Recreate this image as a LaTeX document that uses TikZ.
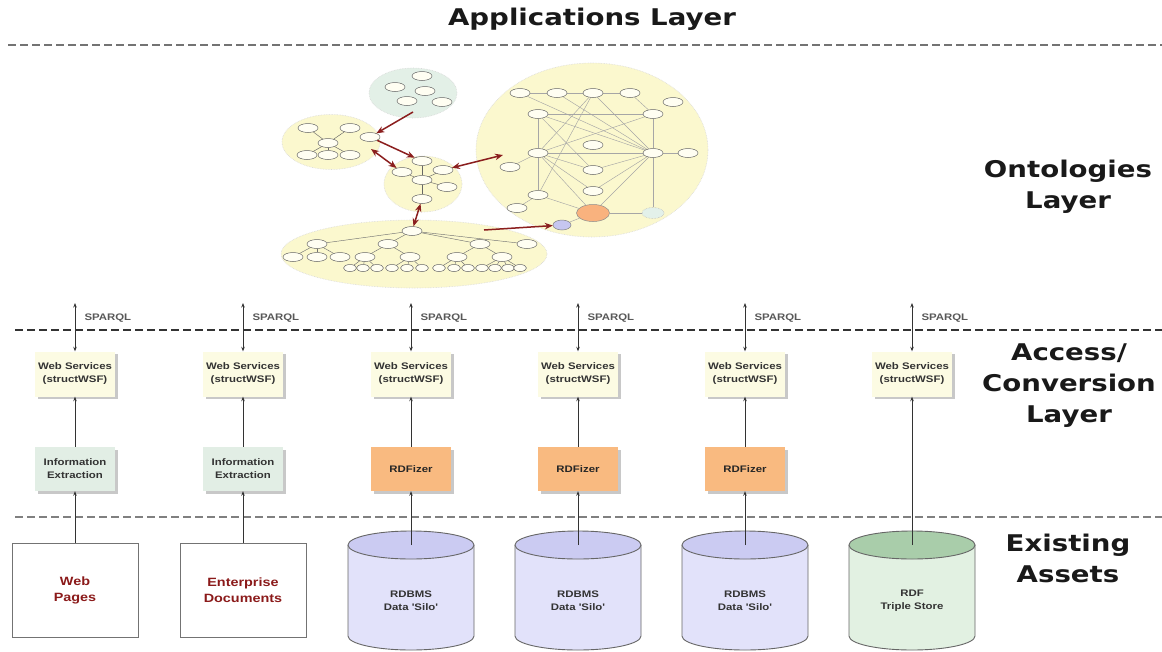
\documentclass[tikz,border=0pt]{standalone}
\usepackage{fontspec}
\usetikzlibrary{shapes.geometric,arrows.meta,shadows}
\newfontfamily\layerfont[FakeStretch=1.2]{DejaVu Sans}
\newfontfamily\boxfont[FakeStretch=1.2]{Liberation Sans}

\definecolor{blobfill}{HTML}{FBF8CE}
\definecolor{blobgreen}{HTML}{E3F0E7}
\definecolor{nodefill}{HTML}{FFFEF2}
\definecolor{wsfill}{HTML}{FCFBE3}
\definecolor{iefill}{HTML}{E2EEE5}
\definecolor{rdffill}{HTML}{F9BA80}
\definecolor{dbbody}{HTML}{E2E2FA}
\definecolor{dbtop}{HTML}{CBCBF2}
\definecolor{tsbody}{HTML}{E2F1E2}
\definecolor{tstop}{HTML}{A9CDAA}
\definecolor{linkred}{HTML}{8B1E1E}
\definecolor{assetred}{HTML}{8B1A1A}
\definecolor{hubfill}{HTML}{F9B27E}
\definecolor{pendfill}{HTML}{E3F1EA}
\definecolor{leaffill}{HTML}{C6C6F0}

\pgfdeclarelayer{paper}
\pgfdeclarelayer{blobs}
\pgfdeclarelayer{edges}
\pgfsetlayers{paper,blobs,edges,main}

\begin{document}
\begin{tikzpicture}[x=1pt,y=-1pt,
  layerlbl/.style={font=\layerfont\bfseries\fontsize{23}{31}\selectfont, align=center, text=black!90},
  sepline/.style={line width=2pt, dash pattern=on 7.5pt off 4.5pt},
  smalltxt/.style={font=\boxfont\bfseries\fontsize{9.5}{13}\selectfont, align=center},
  wsbox/.style={smalltxt, fill=wsfill, minimum width=80pt, minimum height=45pt, inner sep=0pt,
    text=black!80, drop shadow={shadow xshift=2.5pt, shadow yshift=-2.5pt, fill=black!30, opacity=0.7}},
  iebox/.style={smalltxt, fill=iefill, minimum width=80pt, minimum height=44pt, inner sep=0pt,
    text=black!80, drop shadow={shadow xshift=2.5pt, shadow yshift=-2.5pt, fill=black!30, opacity=0.7}},
  rdfbox/.style={iebox, fill=rdffill, text=black!85},
  sparql/.style={font=\boxfont\bfseries\fontsize{9.5}{11}\selectfont, text=black!65, anchor=west},
  docbox/.style={draw=black!55, line width=0.9pt, fill=white, minimum width=126pt, minimum height=94pt,
    font=\boxfont\bfseries\fontsize{12}{16}\selectfont, text=assetred, align=center},
  cyltxt/.style={font=\boxfont\bfseries\fontsize{9.5}{13}\selectfont, text=black!80, align=center},
  cylline/.style={draw=black!60, line width=0.9pt},
  flow/.style={draw=black!80, line width=0.8pt, -{Stealth[length=4.5pt,width=3.5pt]}},
  flow2/.style={flow, {Stealth[length=4.5pt,width=3.5pt]}-{Stealth[length=4.5pt,width=3.5pt]}},
  blob/.style={ellipse, fill=blobfill, draw=black!15, densely dotted, line width=0.6pt, inner sep=0pt},
  onode/.style={ellipse, draw=black!60, fill=nodefill, line width=0.5pt, minimum width=20pt,
    minimum height=9pt, inner sep=0pt},
  snode/.style={onode, minimum width=13pt, minimum height=7pt},
  oedge/.style={draw=black!35, line width=0.45pt},
  redarr/.style={draw=linkred, line width=1.5pt, -{Stealth[length=8pt,width=6.5pt]}},
  redarr2/.style={redarr, {Stealth[length=8pt,width=6.5pt]}-{Stealth[length=8pt,width=6.5pt]}}
]
\begin{pgfonlayer}{paper}
  \fill[white] (0,0) rectangle (1162,651);
\end{pgfonlayer}
\useasboundingbox (0,0) rectangle (1162,651);

% ---------- layer titles and separators ----------
\node[layerlbl] (tApp) at (592,19) {Applications Layer};
\node[layerlbl] (tOnt) at (1068,187) {Ontologies\\Layer};
\node[layerlbl] (tAcc) at (1069,386) {Access/\\Conversion\\Layer};
\node[layerlbl] (tExi) at (1068,558) {Existing\\Assets};

\draw[sepline, black!55] (8,45) -- (1162,45);
\draw[sepline, black!80] (15,330) -- (1162,330);
\draw[sepline, black!50] (15,517) -- (1162,517);

% ---------- ontology clusters ----------
\begin{pgfonlayer}{blobs}
  \node[blob, fill=blobgreen, minimum width=88pt, minimum height=50pt] (G) at (413,93) {};
  \node[blob, minimum width=98pt, minimum height=55pt] (L) at (331,142) {};
  \node[blob, minimum width=78pt, minimum height=56pt] (M) at (423,184) {};
  \node[blob, minimum width=266pt, minimum height=68pt] (B) at (414,254) {};
  \node[blob, minimum width=232pt, minimum height=174pt] (C) at (592,150) {};
\end{pgfonlayer}

% cluster G
\node[onode] (g1) at (422,76) {};
\node[onode] (g2) at (395,87) {};
\node[onode] (g3) at (425,91) {};
\node[onode] (g4) at (407,101) {};
\node[onode] (g5) at (442,102) {};

% cluster L
\node[onode] (l1) at (308,128) {};
\node[onode] (l2) at (350,128) {};
\node[onode] (lc) at (328,143) {};
\node[onode] (l3) at (307,155) {};
\node[onode] (l4) at (328,155) {};
\node[onode] (l5) at (350,155) {};
\node[onode] (lx) at (370,137) {};

% cluster M
\node[onode] (m1) at (422,161) {};
\node[onode] (m2) at (402,172) {};
\node[onode] (m3) at (443,170) {};
\node[onode] (m4) at (422,180) {};
\node[onode] (m5) at (447,187) {};
\node[onode] (m6) at (422,199) {};

% cluster B
\node[onode] (b0) at (412,231) {};
\node[onode] (b21) at (317,244) {};
\node[onode] (b22) at (388,244) {};
\node[onode] (b23) at (480,244) {};
\node[onode] (b24) at (527,244) {};
\node[onode] (b31) at (293,257) {};
\node[onode] (b32) at (317,257) {};
\node[onode] (b33) at (340,257) {};
\node[onode] (b34) at (365,257) {};
\node[onode] (b35) at (410,257) {};
\node[onode] (b36) at (457,257) {};
\node[onode] (b37) at (502,257) {};
\foreach \k/\x in {1/350,2/363,3/377,4/392,5/407,6/422,7/439,8/454,9/468,10/482,11/495,12/508,13/520}
  \node[snode] (b4\k) at (\x,268) {};

% cluster C
\node[onode] (c1) at (520,93) {};
\node[onode] (c2) at (557,93) {};
\node[onode] (c3) at (593,93) {};
\node[onode] (c4) at (630,93) {};
\node[onode] (c5) at (673,102) {};
\node[onode] (c6) at (538,114) {};
\node[onode] (c7) at (653,114) {};
\node[onode] (c8) at (538,153) {};
\node[onode] (c9) at (593,145) {};
\node[onode] (c10) at (653,153) {};
\node[onode] (c11) at (688,153) {};
\node[onode] (c12) at (510,167) {};
\node[onode] (c13) at (593,170) {};
\node[onode] (c14) at (538,195) {};
\node[onode] (c15) at (593,191) {};
\node[onode] (c16) at (517,208) {};
\node[onode, fill=hubfill, draw=black!45, minimum width=33pt, minimum height=17pt] (chub) at (593,213) {};
\node[onode, fill=pendfill, draw=black!30, densely dotted, minimum width=22pt, minimum height=11pt] (cpend) at (653,213) {};
\node[onode, fill=leaffill, draw=black!50, minimum width=18pt, minimum height=10pt] (cleaf) at (562,225) {};

\begin{pgfonlayer}{edges}
  % L
  \foreach \n in {l1,l2,l3,l4,l5} \draw[oedge, draw=black!60] (lc) -- (\n);
  % M
  \foreach \n in {m1,m2,m3,m5,m6} \draw[oedge, draw=black!60] (m4) -- (\n);
  % B
  \foreach \n in {b21,b22,b23,b24} \draw[oedge, draw=black!55] (b0) -- (\n);
  \foreach \a/\n in {b21/b31,b21/b32,b21/b33,b22/b34,b22/b35,b23/b36,b23/b37,
     b34/b41,b34/b42,b34/b43,b35/b44,b35/b45,b35/b46,b36/b47,b36/b48,b36/b49,
     b37/b410,b37/b411,b37/b412,b37/b413}
    \draw[oedge, draw=black!55] (\a) -- (\n);
  % C
  \foreach \a/\n in {c1/c2,c2/c3,c3/c4,c6/c7,c6/c8,c8/c14,c7/c10,c10/cpend,c10/c11,c8/c10,
     c1/c10,c2/c10,c6/c10,c7/c8,c3/c8,c3/c14,c8/c13,c10/c13,c8/chub,c10/chub,c10/c15,
     c14/chub,chub/cpend,c12/c8,c16/c14,cleaf/chub,c8/c15,c4/c7,c3/c10,c6/c13}
    \draw[oedge] (\a) -- (\n);
\end{pgfonlayer}

% links between clusters
\coordinate (r1s) at (413,112);
\coordinate (r3s) at (371,149);
\coordinate (r4e) at (503,155);
\coordinate (r6s) at (484,230);
\draw[redarr] (r1s) -- (lx);
\draw[redarr] (lx) -- (m1);
\draw[redarr2] (r3s) -- (m2);
\draw[redarr2] (m3) -- (r4e);
\draw[redarr2] (m6) -- (b0);
\draw[redarr] (r6s) -- (cleaf);

% ---------- access / conversion columns ----------
\foreach \i/\x in {1/75,2/243,3/411,4/578,5/745,6/912} {
  \node[wsbox] (ws\i) at (\x,374) {Web Services\\(structWSF)};
  \coordinate (sq\i) at (\x,303);
  \draw[flow2] (sq\i) -- (ws\i);
  \node[sparql] (sl\i) at (\x+6,318) {SPARQL};
}

\node[iebox] (cv1) at (75,469) {Information\\Extraction};
\node[iebox] (cv2) at (243,469) {Information\\Extraction};
\node[rdfbox] (cv3) at (411,469) {RDFizer};
\node[rdfbox] (cv4) at (578,469) {RDFizer};
\node[rdfbox] (cv5) at (745,469) {RDFizer};

% ---------- existing assets ----------
\node[docbox] (a1) at (75,590) {Web\\Pages};
\node[docbox] (a2) at (243,590) {Enterprise\\Documents};

% database cylinders: body, outline and top lid
\foreach \i/\x/\body/\lid in {3/411/dbbody/dbtop,4/578/dbbody/dbtop,5/745/dbbody/dbtop,6/912/tsbody/tstop} {
  \fill[\body] (\x-63,545) -- (\x-63,636)
    arc[start angle=180, end angle=0, x radius=63, y radius=14] -- (\x+63,545) -- cycle;
  \draw[cylline] (\x-63,545) -- (\x-63,636)
    arc[start angle=180, end angle=0, x radius=63, y radius=14] -- (\x+63,545);
  \filldraw[cylline, fill=\lid] (\x,545) ellipse[x radius=63, y radius=14];
  \coordinate (top\i) at (\x,545);
}
\node[cyltxt] (a3) at (411,601) {RDBMS\\Data 'Silo'};
\node[cyltxt] (a4) at (578,601) {RDBMS\\Data 'Silo'};
\node[cyltxt] (a5) at (745,601) {RDBMS\\Data 'Silo'};
\node[cyltxt] (a6) at (912,601) {RDF\\Triple Store};

% upward flows
\draw[flow] (a1) -- (cv1);
\draw[flow] (a2) -- (cv2);
\draw[flow] (top3) -- (cv3);
\draw[flow] (top4) -- (cv4);
\draw[flow] (top5) -- (cv5);
\draw[flow] (top6) -- (ws6);
\foreach \i in {1,...,5} \draw[flow] (cv\i) -- (ws\i);
\end{tikzpicture}
\end{document}
